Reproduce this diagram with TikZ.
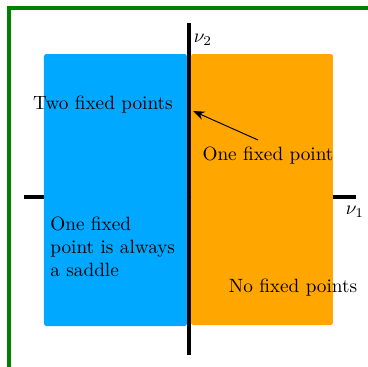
\documentclass[tikz,border=0pt]{standalone}
\usetikzlibrary{arrows.meta}
\definecolor{regblue}{RGB}{0,168,255}
\definecolor{regorange}{RGB}{255,166,0}
\definecolor{framegreen}{RGB}{0,128,0}
\tikzset{
  region/.style={rounded corners=1pt, inner sep=0pt, outer sep=0pt},
  axisline/.style={line width=1.6pt},
  lbl/.style={inner sep=0pt, font=\normalsize},
}
\begin{document}
\begin{tikzpicture}[x=0.52pt,y=-0.52pt]
\useasboundingbox (0,0) rectangle (368,367);
% green frame (left and top visible)
\draw[framegreen, line width=1.6pt] (9,367) -- (9,8) -- (368,8);
% horizontal axis
\coordinate (hl) at (24,197);
\coordinate (hr) at (356,197);
\draw[axisline] (hl) -- (hr);
% vertical axis
\coordinate (vt) at (189,23);
\coordinate (vb) at (189,355);
\draw[axisline] (vt) -- (vb);
% regions
\fill[regblue, region] (44,54) rectangle (187,326);
\fill[regorange, region] (191,54) rectangle (333,325);
% origin dot
\node[circle, fill=black, inner sep=0pt, minimum size=2pt] (o) at (189,197) {};
% axis labels
\node[lbl] (nu2) at (203,40) {$\nu_2$};
\node[lbl] (nu1) at (355,212) {$\nu_1$};
% region labels
\node[lbl] (two) at (103,105) {Two fixed points};
\node[lbl] (one) at (268,156) {One fixed point};
\node[lbl] (none) at (293,288) {No fixed points};
\node[lbl, align=left, anchor=west] (saddle) at (50,247) {One fixed\\point is always\\a saddle};
% arrow
\coordinate (as) at (258,140);
\coordinate (ae) at (193,111);
\draw[-{Stealth[length=6pt,width=4.5pt]}, line width=0.5pt] (as) -- (ae);
\end{tikzpicture}
\end{document}
